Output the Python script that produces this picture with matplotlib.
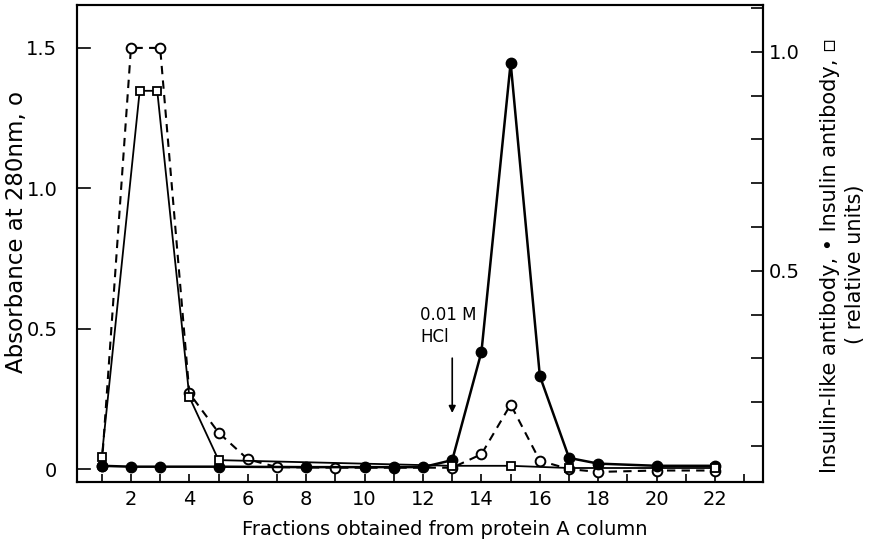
import numpy as np
import matplotlib
matplotlib.use("Agg")
import matplotlib.pyplot as plt
from matplotlib.ticker import MultipleLocator

plt.rcParams['font.family'] = ['DejaVu Sans']

# absorbance at 280 nm (open circles, left axis)
abs_frac = [1, 2, 3, 4, 5, 6, 7, 9, 11, 13, 14, 15, 16, 17, 18, 20, 22]
abs_val = [0.01, 1.50, 1.50, 0.27, 0.13, 0.035, 0.007, 0.005, 0.005, 0.005,
           0.053, 0.23, 0.03, 0.0, -0.01, -0.005, -0.005]

# insulin-like antibody (filled circles, right axis)
il_frac = [1, 2, 3, 5, 8, 10, 11, 12, 13, 14, 15, 16, 17, 18, 20, 22]
il_val = [0.055, 0.053, 0.053, 0.053, 0.052, 0.052, 0.052, 0.052, 0.068,
          0.315, 0.975, 0.26, 0.073, 0.06, 0.055, 0.055]

# insulin antibody (open squares, right axis)
ins_frac = [1, 2.3, 2.9, 4, 5, 13, 15, 17, 22]
ins_val = [0.075, 0.911, 0.911, 0.212, 0.068, 0.055, 0.055, 0.05, 0.05]

xticks = list(range(2, 23, 2))

fig = plt.figure(figsize=(8.74, 5.5), dpi=100)
ax = fig.add_axes([0.088, 0.1236, 0.785, 0.8674])
ax2 = ax.twinx()

ax.plot(abs_frac, abs_val, color='black', ls=(0, (4, 3)), lw=1.5,
        marker='o', ms=7, mfc='white', mec='black', mew=1.4, zorder=3)
ax2.plot(il_frac, il_val, color='black', ls='-', lw=1.8,
         marker='o', ms=7.5, mfc='black', mec='black', zorder=4)
ax2.plot(ins_frac, ins_val, color='black', ls='-', lw=1.3,
         marker='s', ms=6, mfc='white', mec='black', mew=1.3, zorder=5)

ax.set_xlim(0.15, 23.64)
ax.set_ylim(-0.046, 1.653)
ax2.set_ylim(0.018, 1.107)

ax.set_xticks(xticks)
ax.xaxis.set_minor_locator(MultipleLocator(1))
ax.set_yticks([0, 0.5, 1.0, 1.5])
ax.set_yticklabels(['0', '0.5', '1.0', '1.5'])
ax2.set_yticks([0.5, 1.0])
ax2.set_yticklabels(['0.5', '1.0'])
ax2.yaxis.set_minor_locator(MultipleLocator(0.1))

ax.tick_params(axis='x', direction='in', length=6, width=1.2, labelsize=14, pad=6)
ax.tick_params(axis='x', which='minor', direction='in', length=6, width=1.2)
ax.tick_params(axis='y', direction='out', length=0, labelsize=14, pad=14)
for t in [0, 0.5, 1.0, 1.5]:
    ax.plot([0.15, 0.6], [t, t], color='black', lw=1.2, clip_on=False)
ax2.tick_params(axis='y', which='major', direction='in', length=9, width=1.2,
                labelsize=14, pad=4)
ax2.tick_params(axis='y', which='minor', direction='in', length=9, width=1.2)

for a in (ax, ax2):
    for s in a.spines.values():
        s.set_linewidth(1.5)

ax.set_xlabel('Fractions obtained from protein A column', fontsize=14)
ax.xaxis.set_label_coords(0.536, -0.080)
ax.set_ylabel('Absorbance at 280nm, o', fontsize=16.5)
ax.yaxis.set_label_coords(-0.071, 0.524)
fig.text(0.950, 0.535, 'Insulin-like antibody, \u2022 Insulin antibody, \u25ab',
         rotation=90, fontsize=15, ha='center', va='center')
fig.text(0.978, 0.52, '( relative units)', rotation=90, fontsize=15,
         ha='center', va='center')

ax.annotate('', xy=(13, 0.19), xytext=(13, 0.405),
            arrowprops=dict(arrowstyle='-|>', color='black', lw=1.2))
ax.text(11.9, 0.51, '0.01 M\nHCl', fontsize=12, ha='left', va='center',
        linespacing=1.25)

fig.savefig('out.png', dpi=100)
